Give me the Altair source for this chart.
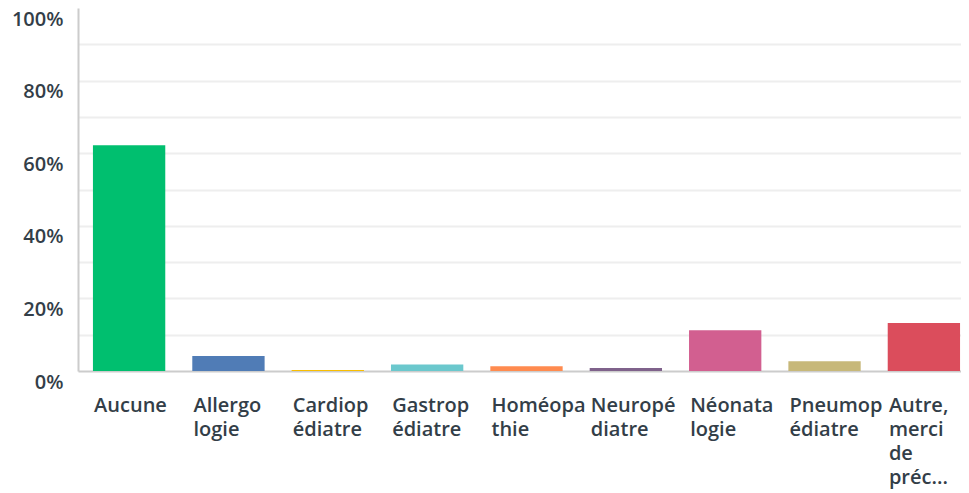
import altair as alt
import pandas as pd

categories = [
    "Aucune",
    "Allergo|logie",
    "Cardiop|édiatre",
    "Gastrop|édiatre",
    "Homéopa|thie",
    "Neuropé|diatre",
    "Néonata|logie",
    "Pneumop|édiatre",
    "Autre,|merci|de|préc...",
]
values = [0.622, 0.041, 0.003, 0.018, 0.013, 0.008, 0.112, 0.027, 0.132]
colors = ["#00BF6F", "#507CB6", "#F9BE00", "#6BC8CD", "#FF8B4F",
          "#7F628B", "#D25F90", "#C7B879", "#DB4D5C"]
y_ticks = [0.0, 0.1, 0.2, 0.3, 0.4, 0.5, 0.6, 0.7, 0.8, 0.9, 1.0]

df = pd.DataFrame({"cat": categories, "val": values})

FONT = "Open Sans"
TXT = "#333E48"

chart = alt.Chart(df).mark_bar().encode(
    x=alt.X(
        "cat:N",
        sort=None,
        title=None,
        scale=alt.Scale(paddingInner=0.272, paddingOuter=0.08, align=0.94),
        axis=alt.Axis(
            labelExpr="split(datum.label, '|')",
            labelAngle=0,
            labelAlign="left",
            labelBaseline="alphabetic",
            labelOffset=-35,
            labelPadding=40,
            labelLineHeight=24.3,
            labelLimit=0,
            labelFont=FONT,
            labelFontSize=20,
            labelFontWeight=600,
            labelColor=TXT,
            ticks=False,
            grid=False,
            domainColor="#cccccc",
            domainWidth=2,
        ),
    ),
    y=alt.Y(
        "val:Q",
        title=None,
        scale=alt.Scale(domain=[0, 1], nice=False),
        axis=alt.Axis(
            values=y_ticks,
            labelExpr="round(datum.value * 100) % 20 == 0 ? format(datum.value, '.0%') : ''",
            labelFont=FONT,
            labelFontSize=20,
            labelFontWeight=600,
            labelColor=TXT,
            labelBaseline="alphabetic",
            labelOffset=17,
            labelPadding=15,
            ticks=False,
            grid=True,
            gridColor="#eeeeee",
            gridWidth=2,
            gridOpacity={"condition": {"test": "datum.value >= 1 || datum.value <= 0", "value": 0}, "value": 1},
            domainColor="#cccccc",
            domainWidth=2,
        ),
    ),
    color=alt.Color(
        "cat:N",
        sort=None,
        scale=alt.Scale(domain=categories, range=colors),
        legend=None,
    ),
).properties(
    width=883,
    height=363,
    autosize=alt.AutoSizeParams(type="none"),
    padding={"left": 70, "top": 0, "right": 0, "bottom": 122},
).configure_view(stroke=None)

chart.save("out.html", embed_options={"renderer": "svg", "actions": False})
